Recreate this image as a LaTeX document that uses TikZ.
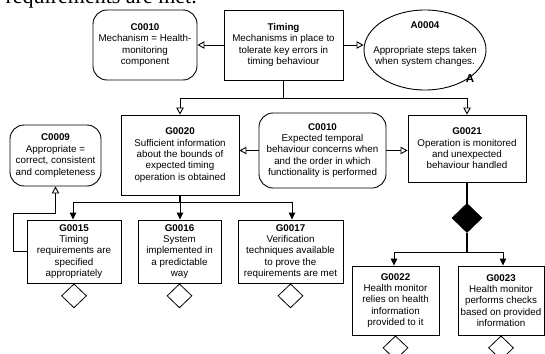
\documentclass[tikz,border=0pt]{standalone}
\usepackage{fontspec}
\setmainfont{Liberation Sans}
\newfontfamily\serifx{Liberation Serif}
\usetikzlibrary{arrows.meta,shapes.geometric}
\tikzset{
  txt/.style={font=\fontsize{9.8}{11.4}\selectfont, align=center, inner sep=0pt},
  goalbox/.style={txt, draw, line width=0.9pt, rectangle},
  ctxbox/.style={txt, draw, line width=0.9pt, rectangle, rounded corners=14pt},
  ctx/.style={-{Triangle[open,length=7pt,width=7.5pt]}, line width=0.9pt},
  sol/.style={-{Triangle[length=7pt,width=6.5pt]}, line width=0.9pt},
  stem/.style={line width=1.7pt},
  undev/.style={diamond, draw, line width=0.8pt, minimum width=25pt, minimum height=24pt, inner sep=0pt},
}
\begin{document}
\begin{tikzpicture}[x=1pt,y=-1pt]
\useasboundingbox (0,0) rectangle (545,353);

\node[font=\serifx\fontsize{22}{22}\selectfont, anchor=base east, inner sep=0pt] (toptxt) at (197,3.5) {requirements are met.};

\node[ctxbox, minimum width=104pt, minimum height=70pt] (c10a) at (145,45)
  {\textbf{C0010}\\Mechanism = Health-\\monitoring\\component};
\node[goalbox, minimum width=119pt, minimum height=70pt] (timing) at (283.5,45)
  {\textbf{Timing}\\Mechanisms in place to\\tolerate key errors in\\timing behaviour};
\node[ellipse, draw, line width=0.9pt, minimum width=122pt, minimum height=80pt, inner sep=0pt] (a4) at (425,50) {};
\node[txt] (a4t) at (425,44) {\textbf{A0004}\\[13.5pt]Appropriate steps taken\\when system changes.};
\node[font=\bfseries\fontsize{11.5}{11.5}\selectfont, inner sep=0pt] (alab) at (470,79) {A};

\node[ctxbox, minimum width=127pt, minimum height=75pt] (c10b) at (322.5,150.5)
  {\textbf{C0010}\\Expected temporal\\behaviour concerns when\\and the order in which\\functionality is performed};
\node[goalbox, minimum width=118pt, minimum height=80pt] (g20) at (180,155)
  {\textbf{G0020}\\Sufficient information\\about the bounds of\\expected timing\\operation is obtained};
\node[goalbox, minimum width=118pt, minimum height=67pt] (g21) at (467,148.5)
  {\textbf{G0021}\\Operation is monitored\\and unexpected\\behaviour handled};
\node[ctxbox, minimum width=91pt, minimum height=61pt] (c09) at (55.5,155.5)
  {\textbf{C0009}\\Appropriate =\\correct, consistent\\and completeness};

\node[goalbox, minimum width=94pt, minimum height=63pt] (g15) at (74,251.5)
  {\textbf{G0015}\\Timing\\requirements are\\specified\\appropriately};
\node[goalbox, minimum width=83pt, minimum height=63pt] (g16) at (179.5,251.5)
  {\textbf{G0016}\\System\\implemented in\\a predictable\\way};
\node[goalbox, minimum width=105pt, minimum height=63pt] (g17) at (290.5,251.5)
  {\textbf{G0017}\\Verification\\techniques available\\to prove the\\requirements are met};

\node[diamond, fill=black, minimum width=31pt, minimum height=30pt, inner sep=0pt] (dia) at (467,218) {};

\node[goalbox, minimum width=87pt, minimum height=69pt] (g22) at (395.5,300.5)
  {\textbf{G0022}\\Health monitor\\relies on health\\information\\provided to it};
\node[goalbox, minimum width=86pt, minimum height=69pt] (g23) at (501,300.5)
  {\textbf{G0023}\\Health monitor\\performs checks\\based on provided\\information};

\node[undev, anchor=north] (u15) at (g15.south) {};
\node[undev, anchor=north] (u16) at (g16.south) {};
\node[undev, anchor=north] (u17) at (g17.south) {};
\node[undev, anchor=north] (u22) at (g22.south) {};
\node[undev, anchor=north] (u23) at (g23.south) {};

% connectors
\draw[ctx] (timing.west) -- (c10a.east);
\draw[ctx] (timing.east) -- (timing.east -| a4.west);
\coordinate (jt) at (283.5,98);
\draw[stem] (timing.south) -- (jt);
\draw[ctx] (jt) -| (g20.north);
\draw[ctx] (jt) -| (g21.north);
\draw[ctx] (c10b.west) -- (c10b.west -| g20.east);
\draw[ctx] (c10b.east) -- (c10b.east -| g21.west);

\coordinate (j20) at (180,202);
\draw[stem] (g20.south) -- (j20);
\draw[sol] (j20) -- (j20 |- g16.north);
\draw[sol] (j20) -| ([xshift=-1pt]g15.north);
\draw[sol] (j20) -| ([xshift=1.5pt]g17.north);

\coordinate (k15) at (13,213);
\draw[ctx] (g15.west) -| (k15) -| (c09.south);

\draw[stem] (g21.south) -- ([yshift=-7pt]dia.north);
\draw[sol] ([yshift=-8pt]dia.north) -- (dia.north);
\coordinate (jd) at (467,252);
\draw[stem] (dia.south) -- (jd);
\draw[sol] (jd) -| ([xshift=-1.5pt]g22.north);
\draw[sol] (jd) -| ([xshift=2pt]g23.north);
\end{tikzpicture}
\end{document}
